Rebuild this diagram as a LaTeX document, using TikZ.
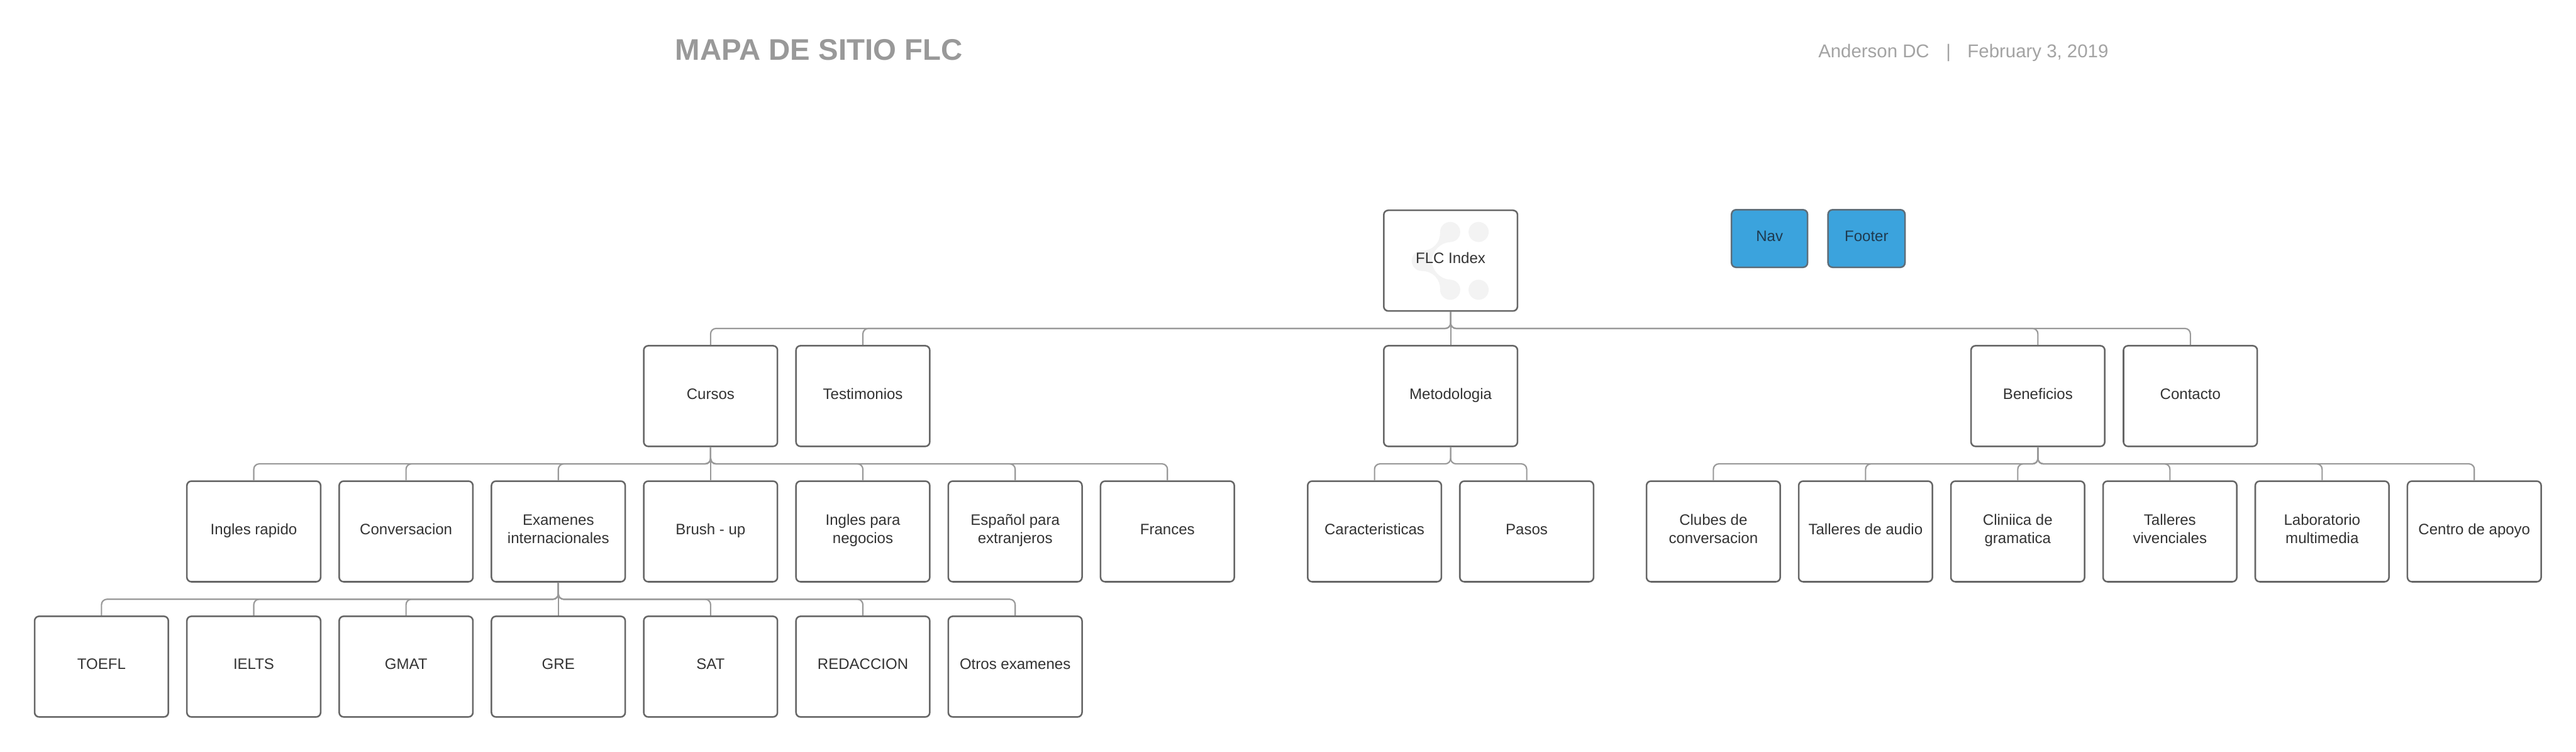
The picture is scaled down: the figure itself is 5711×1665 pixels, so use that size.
\documentclass[tikz,border=0pt]{standalone}
\usepackage{fontspec}
\setmainfont{Liberation Sans}
\newcommand{\lst}{\rule[-13pt]{0pt}{39pt}}
\definecolor{bordergray}{HTML}{666666}
\definecolor{linkgray}{HTML}{999999}
\definecolor{labelgray}{HTML}{333333}
\definecolor{navblue}{HTML}{3BA3DD}
\definecolor{navline}{HTML}{5E6D78}
\definecolor{navtext}{HTML}{1F3A4F}
\definecolor{logogray}{HTML}{F3F3F3}
\tikzset{
  pagebox/.style={draw=bordergray,line width=3.5pt,rounded corners=10pt,inner sep=0pt,
    minimum width=296.5pt,minimum height=223pt,align=center,text=labelgray,
    font=\fontsize{33.5}{41}\selectfont},
  navbox/.style={draw=navline,fill=navblue,line width=3.5pt,rounded corners=10pt,inner sep=0pt,
    minimum height=127.5pt,align=center,text=navtext,
    font=\fontsize{33.5}{41}\selectfont},
  conn/.style={draw=linkgray,line width=3pt,rounded corners=12pt},
  titletext/.style={inner sep=0pt,anchor=base west,text=linkgray,font=\fontsize{66}{70}\selectfont\bfseries},
  metatext/.style={inner sep=0pt,anchor=base west,text=linkgray!90,font=\fontsize{41}{46}\selectfont}
}
\begin{document}
\begin{tikzpicture}[x=1pt,y=-1pt]
\fill[white] (0,0) rectangle (5711,1665);
\useasboundingbox (0,0) rectangle (5711,1665);

% header
\node[titletext] (title) at (1497,133) {MAPA DE SITIO FLC};
\node[metatext] (meta) at (4031,128) {Anderson DC\hspace{37pt}|\hspace{37pt}February 3, 2019};

% watermark behind the root node
\fill[logogray] (3215,514) circle (22.3);
\fill[logogray] (3278,514) circle (22.3);
\fill[logogray] (3215,642) circle (22.3);
\fill[logogray] (3278,642) circle (22.3);
\fill[logogray] (3152,578) circle (22.3);
\fill[logogray] (3151.7,555.7) .. controls (3176.7,555) and (3193.3,538.3) .. (3192.7,513.3)
  -- (3215,536.7) .. controls (3193.3,536.7) and (3175,556.7) .. (3174,578)
  .. controls (3175,599.3) and (3193.3,619.3) .. (3215,619.3)
  -- (3192.7,641.7) .. controls (3193.3,618.3) and (3176.7,600.7) .. (3151.7,600.3) -- cycle;

% row 1
\node[pagebox] (root) at (3216,577.5) {\lst FLC Index};
\node[navbox,minimum width=168.5pt] (nav) at (3923,528.5) {\lst Nav};
\node[navbox,minimum width=170.5pt] (footer) at (4138,528.5) {\lst Footer};

% row 2
\node[pagebox] (cursos) at (1575.4,877.5) {\lst Cursos};
\node[pagebox] (testimonios) at (1913,877.5) {\lst Testimonios};
\node[pagebox] (metodologia) at (3216,877.5) {\lst Metodologia};
\node[pagebox] (beneficios) at (4518,877.5) {\lst Beneficios};
\node[pagebox] (contacto) at (4856,877.5) {\lst Contacto};

% row 3
\node[pagebox] (rapido) at (562.6,1177.5) {\lst Ingles rapido};
\node[pagebox] (conversacion) at (900.2,1177.5) {\lst Conversacion};
\node[pagebox] (examenes) at (1237.8,1177.5) {\lst Examenes\\\lst internacionales};
\node[pagebox] (brush) at (1575.4,1177.5) {\lst Brush - up};
\node[pagebox] (negocios) at (1913,1177.5) {\lst Ingles para\\\lst negocios};
\node[pagebox] (espanol) at (2250.6,1177.5) {\lst Español para\\\lst extranjeros};
\node[pagebox] (frances) at (2588.2,1177.5) {\lst Frances};
\node[pagebox] (caracteristicas) at (3047.3,1177.5) {\lst Caracteristicas};
\node[pagebox] (pasos) at (3384.7,1177.5) {\lst Pasos};
\node[pagebox] (clubes) at (3798.5,1177.5) {\lst Clubes de\\\lst conversacion};
\node[pagebox] (audio) at (4135.9,1177.5) {\lst Talleres de audio};
\node[pagebox] (clinica) at (4473.3,1177.5) {\lst Cliniica de\\\lst gramatica};
\node[pagebox] (vivenciales) at (4810.7,1177.5) {\lst Talleres\\\lst vivenciales};
\node[pagebox] (laboratorio) at (5148.1,1177.5) {\lst Laboratorio\\\lst multimedia};
\node[pagebox] (apoyo) at (5485.5,1177.5) {\lst Centro de apoyo};

% row 4
\node[pagebox] (toefl) at (225,1477) {\lst TOEFL};
\node[pagebox] (ielts) at (562.6,1477) {\lst IELTS};
\node[pagebox] (gmat) at (900.2,1477) {\lst GMAT};
\node[pagebox] (gre) at (1237.8,1477) {\lst GRE};
\node[pagebox] (sat) at (1575.4,1477) {\lst SAT};
\node[pagebox] (redaccion) at (1913,1477) {\lst REDACCION};
\node[pagebox] (otros) at (2250.6,1477) {\lst Otros examenes};

% connectors
\draw[conn] (root.south) -- (metodologia.north);
\foreach \c in {cursos,testimonios,beneficios,contacto}
  \draw[conn] (root.south) -- ++(0,37) -| (\c.north);
\draw[conn] (cursos.south) -- (brush.north);
\foreach \c in {rapido,conversacion,examenes,negocios,espanol,frances}
  \draw[conn] (cursos.south) -- ++(0,37) -| (\c.north);
\foreach \c in {caracteristicas,pasos}
  \draw[conn] (metodologia.south) -- ++(0,37) -| (\c.north);
\foreach \c in {clubes,audio,clinica,vivenciales,laboratorio,apoyo}
  \draw[conn] (beneficios.south) -- ++(0,37) -| (\c.north);
\draw[conn] (examenes.south) -- (gre.north);
\foreach \c in {toefl,ielts,gmat,sat,redaccion,otros}
  \draw[conn] (examenes.south) -- ++(0,37) -| (\c.north);
\end{tikzpicture}
\end{document}
